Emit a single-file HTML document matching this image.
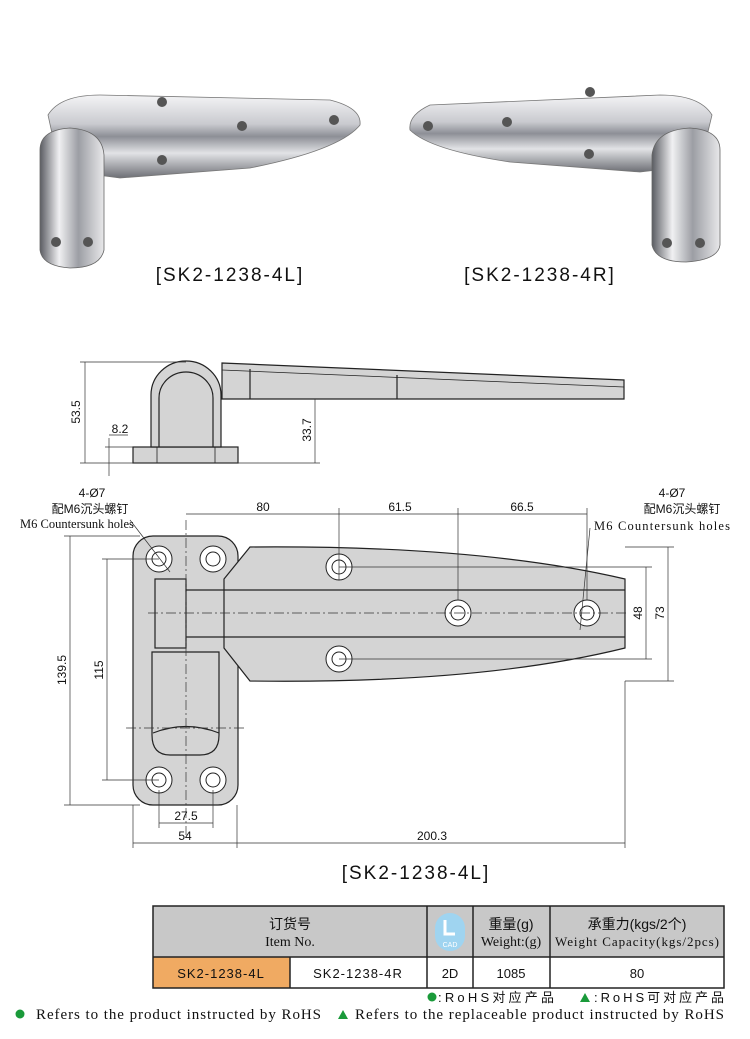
<!DOCTYPE html>
<html><head><meta charset="utf-8"><style>
body{margin:0;background:#fff;}
svg{display:block}
text{font-family:"Liberation Sans","Noto Sans CJK SC",sans-serif;fill:#111}
.s{font-family:"Liberation Serif","Noto Serif CJK SC",serif}
</style></head><body>
<svg width="750" height="1039" viewBox="0 0 750 1039" xmlns="http://www.w3.org/2000/svg">
<defs>
<linearGradient id="ch" x1="0" y1="0" x2="0" y2="1">
<stop offset="0" stop-color="#f4f4f6"/><stop offset="0.35" stop-color="#c9cacf"/><stop offset="0.5" stop-color="#8d8f96"/><stop offset="0.7" stop-color="#e2e3e6"/><stop offset="1" stop-color="#6d6f75"/></linearGradient>
<linearGradient id="kn" x1="0" y1="0" x2="1" y2="0">
<stop offset="0" stop-color="#5a5c62"/><stop offset="0.3" stop-color="#f0f0f2"/><stop offset="0.6" stop-color="#9c9ea4"/><stop offset="1" stop-color="#e8e8ea"/></linearGradient>
</defs>
<g>
<path d="M48,115 Q60,95 100,95 L330,100 Q362,108 360,125 Q340,150 250,168 L120,178 L60,170 Z" fill="url(#ch)" stroke="#777" stroke-width="0.8"/>
<path d="M40,150 Q40,130 70,128 Q102,130 104,155 L104,250 Q100,268 70,268 Q42,266 40,250 Z" fill="url(#kn)" stroke="#666" stroke-width="0.8"/>
<circle cx="162" cy="102" r="5" fill="#555"/><circle cx="242" cy="126" r="5" fill="#555"/><circle cx="334" cy="120" r="5" fill="#555"/><circle cx="162" cy="160" r="5" fill="#555"/>
<circle cx="56" cy="242" r="5" fill="#555"/><circle cx="88" cy="242" r="5" fill="#555"/>
<path d="M712,115 Q700,95 660,95 L430,105 Q408,115 410,130 Q430,150 510,162 L640,172 L700,165 Z" fill="url(#ch)" stroke="#777" stroke-width="0.8"/>
<path d="M720,150 Q720,130 690,128 Q655,130 652,155 L652,245 Q656,262 686,262 Q718,260 720,245 Z" fill="url(#kn)" stroke="#666" stroke-width="0.8"/>
<circle cx="590" cy="92" r="5" fill="#555"/><circle cx="507" cy="122" r="5" fill="#555"/><circle cx="428" cy="126" r="5" fill="#555"/><circle cx="589" cy="154" r="5" fill="#555"/>
<circle cx="667" cy="243" r="5" fill="#555"/><circle cx="700" cy="243" r="5" fill="#555"/>
<text x="230" y="281" font-size="19" text-anchor="middle" letter-spacing="2">[SK2-1238-4L]</text>
<text x="540" y="281" font-size="19" text-anchor="middle" letter-spacing="2">[SK2-1238-4R]</text>
</g>
<g stroke="#222" stroke-width="1.2" fill="#d4d4d4">
<path d="M222,363 L624,380 L624,399 L222,399 Z"/>
<rect x="133" y="447" width="105" height="16"/>
<path d="M151,447 L151,395 A35,34 0 0 1 221,395 L221,447 Z"/>
<path d="M159,447 L159,398 A27,26 0 0 1 213,398 L213,447" fill="none"/>
<line x1="250" y1="369" x2="250" y2="399"/><line x1="397" y1="375" x2="397" y2="399"/>
<line x1="222" y1="370" x2="624" y2="387" stroke-width="0.8"/>
<line x1="157" y1="447" x2="157" y2="463" stroke-width="0.8"/><line x1="215" y1="447" x2="215" y2="463" stroke-width="0.8"/>
</g>
<g stroke="#333" stroke-width="0.7">
<line x1="80" y1="362" x2="186" y2="362"/><line x1="80" y1="463" x2="320" y2="463"/>
<line x1="85" y1="362" x2="85" y2="463"/><line x1="105" y1="447" x2="133" y2="447"/>
<line x1="109" y1="438" x2="109" y2="476"/><line x1="109" y1="435" x2="128" y2="435"/>
<line x1="315" y1="399" x2="315" y2="463"/>
</g>
<text font-size="12" transform="translate(80,412) rotate(-90)" text-anchor="middle">53.5</text>
<text x="120" y="433" font-size="12" text-anchor="middle">8.2</text>
<text font-size="12" transform="translate(311,430) rotate(-90)" text-anchor="middle">33.7</text>
<g stroke="#222" stroke-width="1.2" fill="#d4d4d4">
<rect x="133" y="536" width="105" height="269" rx="20"/>
<path d="M224,579 L250,547 Q480,545 625,579 L625,648 Q480,684 250,681 L224,648 Z"/>
<path d="M155,590 L625,590 M155,637 L625,637" fill="none"/>
<rect x="155" y="579" width="31" height="69"/>
<path d="M152,652 L219,652 L219,735 Q219,755 200,755 L170,755 Q152,755 152,735 Z"/>
<path d="M153,733 Q186,720 219,733" fill="none"/>
</g>
<g stroke="#222" stroke-width="1" fill="#fff">
<g><circle cx="159" cy="559" r="13"/><circle cx="159" cy="559" r="7"/></g>
<g><circle cx="213" cy="559" r="13"/><circle cx="213" cy="559" r="7"/></g>
<g><circle cx="339" cy="567" r="13"/><circle cx="339" cy="567" r="7"/></g>
<g><circle cx="458" cy="613" r="13"/><circle cx="458" cy="613" r="7"/></g>
<g><circle cx="587" cy="613" r="13"/><circle cx="587" cy="613" r="7"/></g>
<g><circle cx="339" cy="659" r="13"/><circle cx="339" cy="659" r="7"/></g>
<g><circle cx="159" cy="780" r="13"/><circle cx="159" cy="780" r="7"/></g>
<g><circle cx="213" cy="780" r="13"/><circle cx="213" cy="780" r="7"/></g>
</g>
<g stroke="#333" stroke-width="0.7" fill="none">
<line x1="148" y1="613" x2="628" y2="613" stroke-dasharray="10,3,2,3"/>
<line x1="186" y1="520" x2="186" y2="835" stroke-dasharray="10,3,2,3"/>
<line x1="126" y1="728" x2="245" y2="728" stroke-dasharray="10,3,2,3"/>
<line x1="186" y1="514" x2="587" y2="514"/>
<line x1="339" y1="508" x2="339" y2="580"/><line x1="458" y1="508" x2="458" y2="600"/><line x1="587" y1="508" x2="587" y2="600"/>
<line x1="339" y1="567" x2="652" y2="567"/><line x1="339" y1="659" x2="652" y2="659"/>
<line x1="646" y1="567" x2="646" y2="659"/>
<line x1="625" y1="547" x2="674" y2="547"/><line x1="625" y1="681" x2="674" y2="681"/>
<line x1="668" y1="547" x2="668" y2="681"/>
<line x1="64" y1="536" x2="140" y2="536"/><line x1="64" y1="805" x2="140" y2="805"/>
<line x1="70" y1="536" x2="70" y2="805"/>
<line x1="102" y1="559" x2="159" y2="559"/><line x1="102" y1="780" x2="159" y2="780"/>
<line x1="107" y1="559" x2="107" y2="780"/>
<line x1="159" y1="790" x2="159" y2="828"/><line x1="213" y1="790" x2="213" y2="828"/>
<line x1="159" y1="823" x2="213" y2="823"/>
<line x1="133" y1="805" x2="133" y2="848"/><line x1="237" y1="805" x2="237" y2="848"/><line x1="625" y1="681" x2="625" y2="848"/>
<line x1="133" y1="843" x2="625" y2="843"/>
<line x1="130" y1="520" x2="170" y2="572"/><line x1="590" y1="528" x2="580" y2="630"/>
</g>
<g font-size="12" text-anchor="middle">
<text x="263" y="511">80</text><text x="400" y="511">61.5</text><text x="522" y="511">66.5</text>
<text transform="translate(642,613) rotate(-90)">48</text>
<text transform="translate(664,613) rotate(-90)">73</text>
<text transform="translate(66,670) rotate(-90)">139.5</text>
<text transform="translate(103,670) rotate(-90)">115</text>
<text x="186" y="820">27.5</text><text x="185" y="840">54</text><text x="432" y="840">200.3</text>
<text x="92" y="497">4-Ø7</text><text x="90" y="513">配M6沉头螺钉</text>
<text x="672" y="497">4-Ø7</text><text x="682" y="513">配M6沉头螺钉</text>
</g>
<text class="s" x="20" y="528" font-size="12.5">M6 Countersunk holes</text>
<text class="s" x="594" y="530" font-size="12.5" textLength="136">M6 Countersunk holes</text>
<text x="416" y="879" font-size="19" text-anchor="middle" letter-spacing="2">[SK2-1238-4L]</text>
<rect x="153" y="906" width="571" height="51" fill="#c8c8c8"/>
<rect x="153" y="957" width="137" height="31" fill="#f0aa62"/>
<g stroke="#222" stroke-width="1.5" fill="none">
<rect x="153" y="906" width="571" height="82"/>
<line x1="153" y1="957" x2="724" y2="957"/>
<line x1="290" y1="957" x2="290" y2="988"/><line x1="427" y1="906" x2="427" y2="988"/>
<line x1="473" y1="906" x2="473" y2="988"/><line x1="550" y1="906" x2="550" y2="988"/>
</g>
<rect x="435" y="913" width="30" height="38" rx="15" fill="#9fd4f0"/>
<text x="450" y="947" font-size="7" text-anchor="middle" style="fill:#fff">CAD</text>
<path d="M445,920 L445,934 L455,934" stroke="#fff" stroke-width="3" fill="none"/>
<g font-size="14" text-anchor="middle">
<text x="290" y="929">订货号</text><text class="s" x="290" y="946">Item No.</text>
<text x="511" y="929">重量(g)</text><text class="s" x="511" y="946">Weight:(g)</text>
<text x="637" y="929">承重力(kgs/2个)</text><text class="s" x="637" y="946" font-size="13" textLength="164">Weight Capacity(kgs/2pcs)</text>
<text x="221" y="978" font-size="13" letter-spacing="1">SK2-1238-4L</text>
<text x="358" y="978" font-size="13" letter-spacing="1">SK2-1238-4R</text>
<text x="450" y="978" font-size="13">2D</text><text x="511" y="978" font-size="13">1085</text><text x="637" y="978" font-size="13">80</text>
</g>
<circle cx="432" cy="997" r="4.5" fill="#1a9a3a"/>
<text x="438" y="1002" font-size="13" textLength="116">:RoHS对应产品</text>
<path d="M580,1002 L585,993 L590,1002 Z" fill="#1a9a3a"/>
<text x="594" y="1002" font-size="13" textLength="130">:RoHS可对应产品</text>
<circle cx="20" cy="1014" r="4.5" fill="#1a9a3a"/>
<text class="s" x="36" y="1019" font-size="15" textLength="285">Refers to the product instructed by RoHS</text>
<path d="M338,1019 L343,1010 L348,1019 Z" fill="#1a9a3a"/>
<text class="s" x="355" y="1019" font-size="15" textLength="369">Refers to the replaceable product instructed by RoHS</text>
</svg>
</body></html>
